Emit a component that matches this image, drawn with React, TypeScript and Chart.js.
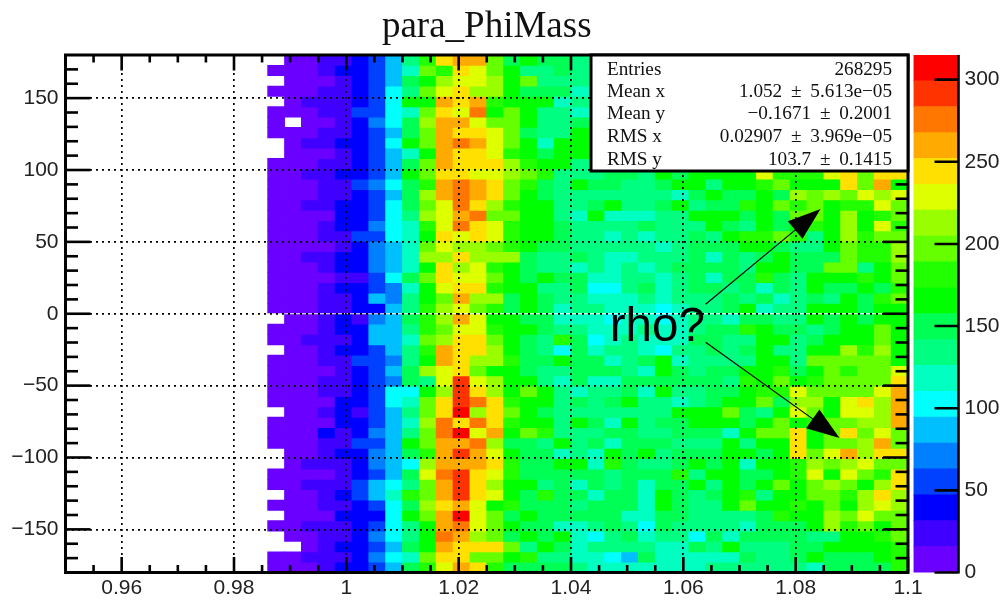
import React, { useEffect, useRef } from "react";
import { Chart, registerables } from "chart.js";

Chart.register(...registerables);

const titleText = "para_PhiMass";
const annotationText = "rho?";
const statLabels = ["Entries", "Mean x", "Mean y", "RMS x", "RMS y"];
const statValues = ["268295", "1.052 ± 5.613e−05", "−0.1671 ± 0.2001", "0.02907 ± 3.969e−05", "103.7 ± 0.1415"];

const xTicks = [0.96, 0.98, 1, 1.02, 1.04, 1.06, 1.08, 1.1];
const yTicks = [-150, -100, -50, 0, 50, 100, 150];
const zTicks = [0, 50, 100, 150, 200, 250, 300];

const xMin = 0.95, xMax = 1.1, xBinWidth = 0.003, firstFilledBin = 12;
const yMin = -180, yMax = 180, yBinWidth = 7.2;
const zMax = 315;

const palette = ["#6a00ff", "#4000ff", "#0000ff", "#0040ff", "#0080ff", "#00bfff", "#00ffff", "#00ffc0", "#00ff80", "#00ff55", "#00ff00", "#22ff00", "#66ff00", "#99ff00", "#ddff00", "#ffe000", "#ffaa00", "#ff7700", "#ff3300", "#ff0000"];

// Rows are listed from the bottom bin (-180 deg) upward; each starts at mass 0.986. 0 = empty / hidden by the stats box.
const r00 = [8,8,8,24,39,39,55,87,150,181,228,260,244,181,150,150,150,150,134,118,118,118,118,118,118,118,134,134,134,134,134,134,118,150,150,150,150,181];
const r01 = [8,8,24,24,24,39,71,102,118,197,244,244,197,197,165,181,134,134,118,118,102,87,150,118,118,118,118,118,150,134,134,150,165,150,150,150,165,181];
const r02 = [0,0,8,24,39,39,55,87,150,165,260,244,244,244,197,134,165,150,118,134,134,134,134,118,118,150,134,165,134,134,134,150,150,165,165,165,165,181];
const r03 = [0,8,8,24,24,39,71,102,134,165,276,260,213,197,150,165,150,165,118,102,134,150,118,134,134,102,150,118,150,150,150,150,134,134,165,165,181,197];
const r04 = [8,8,24,24,24,39,55,102,134,165,260,276,228,197,165,150,150,118,118,134,150,134,102,150,134,134,134,134,118,150,150,150,165,213,181,197,165,197];
const r05 = [0,8,8,8,39,39,39,102,165,197,260,307,228,197,150,165,150,150,150,150,150,118,118,150,150,134,134,134,134,150,181,165,165,213,197,228,197,197];
const r06 = [8,8,8,24,24,39,55,102,150,213,244,260,228,165,181,150,150,150,134,150,150,150,118,165,150,134,134,165,197,165,165,181,165,197,165,213,228,213];
const r07 = [0,8,8,24,39,55,87,118,181,197,260,291,244,228,165,150,181,150,150,118,150,150,118,165,150,134,150,165,181,134,165,165,197,197,181,213,244,213];
const r08 = [8,8,24,24,24,55,87,102,134,197,260,291,244,213,165,165,134,150,118,150,134,150,118,150,150,165,134,165,150,165,197,165,197,213,197,165,213,244];
const r09 = [8,8,8,8,24,39,55,87,150,228,276,291,244,228,181,150,150,150,150,150,134,150,150,150,181,134,165,165,150,150,165,181,228,165,228,197,181,244];
const r10 = [0,8,24,24,24,39,71,87,102,213,260,260,260,244,181,150,150,165,165,118,181,150,134,134,150,165,150,165,118,165,165,181,213,197,213,228,197,197];
const r11 = [0,8,8,24,39,39,71,87,150,181,260,291,260,228,165,150,150,118,134,118,165,150,165,134,150,150,150,165,165,150,165,244,197,228,260,213,244,244];
const r12 = [8,8,8,24,24,55,55,87,165,197,260,260,276,213,150,150,134,165,134,150,118,150,150,150,134,134,134,165,134,165,165,244,165,197,197,213,260,197];
const r13 = [8,8,8,39,24,39,71,87,134,197,276,307,228,260,165,197,181,134,134,134,150,150,134,134,150,150,150,118,165,197,197,244,165,197,244,197,228,197];
const r14 = [8,8,8,8,39,39,55,87,118,213,276,244,276,244,181,165,165,134,165,150,118,165,134,150,150,165,165,165,150,165,197,165,181,197,197,213,213,260];
const r15 = [0,8,8,24,39,24,55,87,134,197,244,307,213,244,197,165,150,134,134,134,134,134,134,134,165,165,165,197,150,134,165,228,197,165,228,228,213,260];
const r16 = [8,8,8,8,39,39,55,102,118,197,244,291,276,244,181,165,165,134,150,134,150,165,134,134,118,134,150,165,165,197,150,213,213,165,228,244,213,260];
const r17 = [8,8,8,24,24,39,55,102,102,165,213,291,244,213,165,197,165,134,118,134,134,150,118,165,134,134,150,150,165,181,181,228,197,197,197,197,228,260];
const r18 = [8,8,8,24,24,39,55,71,150,134,228,291,228,213,165,165,134,118,150,118,118,150,150,150,150,150,150,134,181,165,197,165,181,197,197,197,197,244];
const r19 = [8,8,8,8,24,39,55,87,150,213,228,244,197,165,165,150,134,134,150,150,150,134,118,165,150,134,150,150,165,165,181,150,165,197,181,197,197,228];
const r20 = [8,8,8,24,24,55,55,71,134,165,260,244,213,213,181,150,150,165,150,150,118,134,150,165,118,134,134,134,134,165,165,134,197,197,197,197,197,165];
const r21 = [0,8,8,24,39,39,55,87,134,181,260,244,244,213,165,150,134,102,150,118,134,134,118,102,134,134,150,134,150,165,134,134,165,165,213,181,213,165];
const r22 = [8,8,24,24,24,39,87,87,118,197,213,244,244,197,165,150,134,181,150,102,118,134,118,118,118,150,150,134,134,165,165,134,150,165,165,165,197,165];
const r23 = [8,8,8,24,39,39,87,87,134,181,197,228,228,181,165,165,150,134,134,118,118,118,134,118,118,134,150,150,181,165,150,150,134,150,165,165,197,165];
const r24 = [0,8,8,24,39,24,71,87,150,181,213,260,228,165,165,150,150,118,118,118,102,118,118,102,118,134,134,118,150,150,134,134,165,150,165,150,165,165];
const r25 = [8,8,8,24,24,39,39,87,134,181,213,228,197,181,150,165,150,118,134,134,118,118,118,102,118,134,134,150,165,118,134,134,165,165,165,150,165,165];
const r26 = [8,8,8,24,24,39,87,71,134,165,197,260,213,213,150,165,150,134,134,118,118,118,134,118,134,134,134,150,134,150,118,134,150,134,165,150,181,197];
const r27 = [8,8,8,24,39,39,55,71,118,165,228,244,244,181,165,165,134,134,150,102,102,134,150,118,134,150,150,134,150,118,150,134,165,150,150,165,150,181];
const r28 = [8,8,8,8,24,24,55,102,150,197,244,228,228,197,165,150,165,150,150,118,118,134,134,118,134,150,118,150,150,181,150,134,165,165,165,181,165,197];
const r29 = [8,8,8,24,39,39,71,87,118,165,244,213,228,181,165,150,134,134,118,134,118,134,118,134,150,150,150,150,134,165,165,150,150,197,197,134,165,197];
const r30 = [8,8,24,24,39,39,71,87,118,213,213,244,213,213,213,150,134,134,150,134,118,118,134,134,134,150,118,150,134,150,165,150,150,150,197,181,181,213];
const r31 = [8,8,8,8,24,39,71,87,118,197,228,213,213,197,181,165,150,150,134,134,134,134,134,118,134,150,150,150,165,165,150,134,134,165,197,181,181,213];
const r32 = [8,8,8,24,24,55,55,102,118,165,244,228,244,228,181,165,165,150,134,134,118,134,118,134,134,150,134,165,181,181,197,181,134,165,213,181,197,197];
const r33 = [8,8,8,24,39,39,71,102,118,181,228,276,244,228,181,165,165,150,134,134,134,134,150,134,134,134,165,150,134,165,150,165,181,165,213,165,228,181];
const r34 = [8,8,8,8,39,39,55,102,134,213,228,260,276,197,197,165,165,134,118,165,118,118,118,134,134,165,165,165,150,165,150,197,197,165,213,165,181,197];
const r35 = [8,8,24,24,39,39,55,102,150,197,228,276,244,213,181,165,165,134,134,150,165,134,134,150,165,134,150,150,181,165,197,181,197,165,181,181,228,197];
const r36 = [8,8,8,24,24,39,55,87,150,213,260,276,260,244,197,165,150,134,134,134,134,134,134,134,118,150,165,150,150,165,150,213,197,213,197,228,213,228];
const r37 = [8,8,8,24,24,55,71,102,150,181,260,276,260,244,197,181,150,134,165,150,150,134,134,150,165,165,134,165,165,181,197,165,165,165,244,197,260,165];
const r38 = [8,8,24,24,39,39,55,87,165,197,244,244,228,228,213,197,181,134,134,134,150,150,134,165,150,165,165,165,165,228,181,181,181,228,244,197,244,244];
const r39 = [8,8,8,24,24,39,55,87,150,197,260,244,244,244,213,181,165,165,134,134];
const r40 = [0,8,8,8,24,39,55,87,118,165,260,244,244,228,181,165,150,165,165,165];
const r41 = [0,8,24,24,39,39,55,102,165,197,260,276,260,228,197,165,118,165,165,165];
const r42 = [8,8,8,24,24,39,55,87,150,197,260,244,244,228,197,150,134,134,165,165];
const r43 = [8,0,8,8,24,39,71,102,150,213,260,260,228,197,197,165,134,134,150,150];
const r44 = [8,8,8,24,24,55,55,102,118,197,244,228,276,165,197,165,134,134,118,118];
const r45 = [0,8,24,24,24,39,55,102,165,165,260,244,260,181,165,165,165,118,134,134];
const r46 = [8,8,8,24,24,39,55,102,134,197,228,244,213,213,165,150,150,150,118,118];
const r47 = [0,8,8,8,24,39,55,87,150,165,213,228,228,213,165,197,134,134,134,134];
const r48 = [8,8,8,24,39,39,55,87,118,197,181,244,228,197,165,134,134,150,134,134];
const r49 = [0,8,8,24,24,39,55,87,134,181,244,260,260,197,150,165,150,150,134,134];

const countRows = [r00,r01,r02,r03,r04,r05,r06,r07,r08,r09,r10,r11,r12,r13,r14,r15,r16,r17,r18,r19,r20,r21,r22,r23,r24,r25,r26,r27,r28,r29,r30,r31,r32,r33,r34,r35,r36,r37,r38,r39,r40,r41,r42,r43,r44,r45,r46,r47,r48,r49];

// Annotation arrows, in data coordinates: [startX, startY, tipX, tipY]
const arrowUp = [1.06397, 6.6, 1.08443, 72.9];
const arrowDown = [1.06397, -19.8, 1.08781, -86.5];
const rhoLabelAt = [1.0469, -19];

const SANS = '"Liberation Sans", Arial, sans-serif';
const SERIF = '"Liberation Serif", "Times New Roman", serif';

const levelColor = (v: number) => palette[Math.min(palette.length - 1, Math.floor((v / zMax) * palette.length))];

function buildCells() {
  const cells: any[] = [];
  const colors: string[] = [];
  countRows.forEach((row, r) => {
    row.forEach((v, c) => {
      if (!v) return;
      cells.push({
        x: xMin + xBinWidth * (firstFilledBin + c + 0.5),
        y: [yMin + yBinWidth * r, yMin + yBinWidth * (r + 1)],
      });
      colors.push(levelColor(v));
    });
  });
  return { cells, colors };
}

const framePlugin = {
  id: "rootFrame",
  afterDraw(chart: any) {
    const { ctx, chartArea: a, scales } = chart;
    const x = scales.x, y = scales.y;
    ctx.save();
    ctx.strokeStyle = "#000";
    ctx.fillStyle = "#000";
    ctx.lineWidth = 2.6;
    ctx.lineCap = "butt";
    const line = (x1: number, y1: number, x2: number, y2: number) => {
      ctx.beginPath();
      ctx.moveTo(x1, y1);
      ctx.lineTo(x2, y2);
      ctx.stroke();
    };
    // x ticks (major 0.02, minor 0.005), top and bottom
    for (let i = 0; i <= 30; i++) {
      const v = xMin + i * 0.005;
      const major = Math.abs(((v - 0.96) / 0.02) - Math.round((v - 0.96) / 0.02)) < 1e-6;
      const len = major ? 15.5 : 7.5;
      const px = x.getPixelForValue(v);
      line(px, a.bottom, px, a.bottom - len);
      line(px, a.top, px, a.top + len);
    }
    // y ticks (major 50, minor 10), left and right
    for (let v = -170; v <= 170; v += 10) {
      const major = v % 50 === 0;
      const len = major ? 25 : 12.5;
      const py = y.getPixelForValue(v);
      line(a.left, py, a.left + len, py);
      line(a.right, py, a.right - len, py);
    }
    ctx.lineWidth = 3;
    ctx.strokeRect(a.left, a.top, a.right - a.left, a.bottom - a.top);

    // statistics box
    const bx = 591, by = 55, bw = a.right - 591, bh = 116;
    ctx.fillStyle = "#fff";
    ctx.fillRect(bx, by, bw, bh);
    ctx.strokeRect(bx, by, bw, bh);
    ctx.fillStyle = "#111";
    ctx.font = `19.2px ${SERIF}`;
    ctx.textBaseline = "alphabetic";
    const baselines = [74.5, 97, 119, 142, 165];
    statLabels.forEach((t, i) => {
      ctx.textAlign = "left";
      ctx.wordSpacing = "0px";
      ctx.fillText(t, 607, baselines[i]);
      ctx.textAlign = "right";
      ctx.wordSpacing = "4px";
      ctx.fillText(statValues[i], 892, baselines[i]);
    });
    ctx.wordSpacing = "0px";

    // "rho?" and the two arrows
    ctx.fillStyle = "#000";
    ctx.font = `47.5px ${SANS}`;
    ctx.textAlign = "left";
    ctx.fillText(annotationText, x.getPixelForValue(rhoLabelAt[0]), y.getPixelForValue(rhoLabelAt[1]));
    for (const [sx, sy, tx, ty] of [arrowUp, arrowDown]) {
      const x0 = x.getPixelForValue(sx), y0 = y.getPixelForValue(sy);
      const x1 = x.getPixelForValue(tx), y1 = y.getPixelForValue(ty);
      const ang = Math.atan2(y1 - y0, x1 - x0);
      ctx.lineWidth = 1.2;
      line(x0, y0, x1 - 30 * Math.cos(ang), y1 - 30 * Math.sin(ang));
      const headLen = 33, half = 11.5;
      const bxx = x1 - headLen * Math.cos(ang), byy = y1 - headLen * Math.sin(ang);
      ctx.beginPath();
      ctx.moveTo(x1, y1);
      ctx.lineTo(bxx - half * Math.sin(ang), byy + half * Math.cos(ang));
      ctx.lineTo(bxx + half * Math.sin(ang), byy - half * Math.cos(ang));
      ctx.closePath();
      ctx.fill();
    }
    ctx.restore();
  },
};

const colorbarFrame = {
  id: "colorbarFrame",
  afterDraw(chart: any) {
    const { ctx, chartArea: a, scales } = chart;
    ctx.save();
    ctx.strokeStyle = "#000";
    ctx.lineWidth = 2.6;
    ctx.beginPath();
    ctx.moveTo(a.right, a.top);
    ctx.lineTo(a.right, a.bottom + 1);
    zTicks.forEach((v) => {
      const py = scales.y.getPixelForValue(v);
      ctx.moveTo(a.right, py);
      ctx.lineTo(a.right - 24, py);
    });
    ctx.stroke();
    ctx.restore();
  },
};

export default function App() {
  const mainRef = useRef<HTMLCanvasElement>(null);
  const barRef = useRef<HTMLCanvasElement>(null);

  useEffect(() => {
    const { cells, colors } = buildCells();
    const main = new Chart(mainRef.current!, {
      type: "bar",
      data: {
        datasets: [
          {
            data: cells,
            backgroundColor: colors,
            borderWidth: 0,
            barPercentage: 1,
            categoryPercentage: 1,
            grouped: false,
            inflateAmount: 0.4,
          } as any,
        ],
      },
      options: {
        animation: false,
        responsive: false,
        events: [],
        layout: { padding: { left: 0, right: 96, top: 0, bottom: 0 } },
        plugins: {
          legend: { display: false },
          tooltip: { enabled: false },
          title: {
            display: true,
            text: titleText,
            fullSize: false,
            color: "#111",
            font: { family: SERIF, size: 37, weight: "normal", lineHeight: 1.2 },
            padding: { top: 5, bottom: 5.6 },
          },
        },
        scales: {
          x: {
            type: "linear",
            min: xMin,
            max: xMax,
            offset: false,
            afterBuildTicks: (s: any) => {
              s.ticks = xTicks.map((value) => ({ value }));
            },
            afterFit: (s: any) => {
              s.height = 27.5;
              s.paddingLeft = 0;
              s.paddingRight = 0;
            },
            border: { display: false, dash: [2, 4] },
            grid: { z: 1, color: "#000", lineWidth: 1.7, drawTicks: false, offset: false },
            ticks: {
              color: "#222",
              font: { family: SANS, size: 21 },
              padding: 3,
              maxRotation: 0,
              autoSkip: false,
              callback: (v: any) => String(v),
            },
          },
          y: {
            type: "linear",
            min: yMin,
            max: yMax,
            afterBuildTicks: (s: any) => {
              s.ticks = yTicks.map((value) => ({ value }));
            },
            afterFit: (s: any) => {
              s.width = 65.5;
              s.paddingTop = 0;
              s.paddingBottom = 0;
            },
            border: { display: false, dash: [2, 4] },
            grid: { z: 1, color: "#000", lineWidth: 1.7, drawTicks: false },
            ticks: {
              color: "#222",
              font: { family: SANS, size: 21 },
              padding: 7,
              autoSkip: false,
              callback: (v: any) => String(v).replace("-", "−"),
            },
          },
        },
      } as any,
      plugins: [framePlugin],
    });

    const step = zMax / palette.length;
    const bar = new Chart(barRef.current!, {
      type: "bar",
      data: {
        labels: ["z"],
        datasets: palette.map((c, i) => ({
          data: [[i * step, (i + 1) * step]],
          backgroundColor: c,
          borderWidth: 0,
          barPercentage: 1,
          categoryPercentage: 1,
          grouped: false,
          inflateAmount: 0.4,
        })) as any,
      },
      options: {
        animation: false,
        responsive: false,
        events: [],
        layout: { padding: { left: 8.5, right: 0, top: 0, bottom: 0 } },
        plugins: { legend: { display: false }, tooltip: { enabled: false } },
        scales: {
          x: {
            display: true,
            afterFit: (s: any) => {
              s.height = 27.5;
              s.paddingLeft = 0;
              s.paddingRight = 0;
            },
            border: { display: false },
            grid: { display: false },
            ticks: { display: false },
          },
          y: {
            type: "linear",
            position: "right",
            min: 0,
            max: zMax,
            afterBuildTicks: (s: any) => {
              s.ticks = zTicks.map((value) => ({ value }));
            },
            afterFit: (s: any) => {
              s.width = 45.5;
              s.paddingTop = 55;
              s.paddingBottom = 0;
            },
            border: { display: false },
            grid: { display: false, drawTicks: false },
            ticks: { color: "#222", font: { family: SANS, size: 21 }, padding: 6, autoSkip: false },
          },
        },
      } as any,
      plugins: [colorbarFrame],
    });

    return () => {
      main.destroy();
      bar.destroy();
    };
  }, []);

  return (
    <div style={{ position: "absolute", left: 0, top: 0, width: 1004, height: 600, background: "#fff", overflow: "hidden" }}>
      <canvas ref={mainRef} width={1004} height={600} style={{ position: "absolute", left: 0, top: 0, display: "block" }} />
      <canvas ref={barRef} width={99} height={600} style={{ position: "absolute", left: 905, top: 0, display: "block" }} />
    </div>
  );
}
